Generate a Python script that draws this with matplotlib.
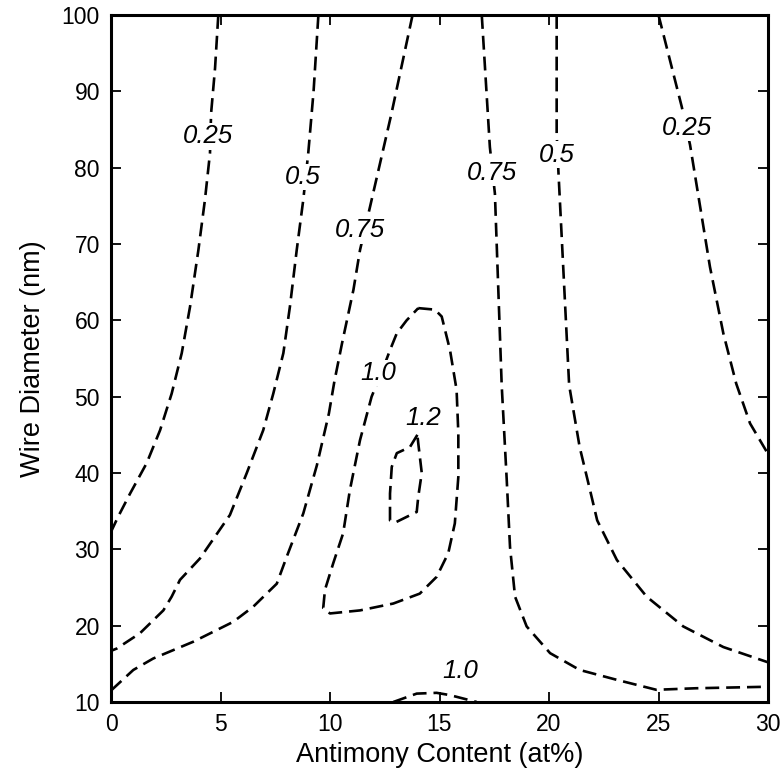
import matplotlib
matplotlib.use("Agg")
import matplotlib.pyplot as plt

plt.rcParams['font.family'] = ['Liberation Sans', 'DejaVu Sans']
plt.rcParams['lines.scale_dashes'] = False

# Contour lines (x = Antimony content at%, y = wire diameter nm)
c025_left_x = [4.90, 4.75, 4.57, 4.52, 4.29, 3.99, 3.61, 3.23, 2.77, 2.24, 1.63, 0.87, 0.33, 0.0]
c025_left_y = [100, 93, 87.1, 81.9, 75.8, 69.2, 61.8, 55.7, 50.4, 45.6, 41.3, 37.3, 34.3, 32.3]

c05_left_x = [9.47, 9.25, 9.01, 8.78, 8.48, 8.17, 7.87, 7.41, 6.95, 6.20, 5.43, 4.06, 3.15, 2.77,
              2.39, 1.32, 0.26, 0.0]
c05_left_y = [100, 90, 82, 75.8, 69.2, 61.8, 55.7, 50.4, 45.6, 40.0, 34.5, 28.8, 26.0, 23.8,
              22.0, 19.0, 17.0, 16.7]

c075_left_x = [13.77, 12.80, 11.83, 11.37, 11.07, 10.55, 10.20, 9.95, 9.40, 8.78, 8.02, 7.57,
               6.50, 5.58, 3.76, 1.93, 1.02, 0.0]
c075_left_y = [100, 87, 74.9, 69.2, 64.0, 57.0, 52.0, 47.8, 41.0, 34.7, 29.0, 25.5,
               22.5, 20.5, 17.9, 15.7, 14.2, 11.5]

c10_loop_x = [14.03, 14.79, 15.10, 15.48, 15.78, 15.86, 15.86, 15.70, 15.40, 14.87, 14.10,
              12.89, 11.37, 10.00, 9.69, 9.77, 10.15, 10.60, 10.91, 11.37, 11.90, 12.40,
              12.74, 13.05, 13.50, 14.03]
c10_loop_y = [61.6, 61.4, 60.5, 56.1, 50.9, 45.2, 39.5, 33.4, 29.5, 26.4, 24.2,
              22.9, 22.0, 21.6, 22.3, 24.7, 28.2, 32.1, 37.8, 44.3, 50.0, 53.5,
              56.1, 58.3, 60.0, 61.6]

c12_loop_x = [13.99, 13.65, 13.05, 12.82, 12.74, 12.74, 12.97, 13.96, 14.03, 14.19, 14.03, 13.99]
c12_loop_y = [45.0, 43.4, 42.6, 40.8, 37.3, 33.8, 33.5, 34.9, 36.9, 40.0, 43.9, 45.0]

c10_bottom_x = [12.89, 13.96, 14.87, 15.48, 16.70]
c10_bottom_y = [10.0, 11.1, 11.2, 10.9, 10.0]

c075_right_x = [16.93, 17.30, 17.53, 17.84, 18.07, 18.22, 18.45, 18.98, 20.05, 21.40, 23.10,
                24.90, 26.70, 30.0]
c075_right_y = [100, 82.7, 76.6, 51.5, 39.1, 30.3, 23.8, 19.9, 16.4, 14.2, 12.9,
                11.6, 11.8, 12.0]

c05_right_x = [20.35, 20.35, 20.43, 20.92, 21.40, 21.87, 22.20, 23.10, 24.46, 26.13, 27.96, 30.0]
c05_right_y = [100, 84.5, 79.5, 51.5, 43.4, 37.8, 33.8, 28.6, 23.8, 19.9, 17.2, 15.2]

c025_right_x = [25.0, 26.06, 26.44, 27.35, 27.96, 28.55, 29.18, 30.0]
c025_right_y = [100, 88.0, 83.0, 67.0, 58.3, 51.7, 46.5, 42.5]

lines_x = [c025_left_x, c05_left_x, c075_left_x, c10_loop_x, c12_loop_x, c10_bottom_x,
           c075_right_x, c05_right_x, c025_right_x]
lines_y = [c025_left_y, c05_left_y, c075_left_y, c10_loop_y, c12_loop_y, c10_bottom_y,
           c075_right_y, c05_right_y, c025_right_y]

# Contour labels
label_text = ['0.25', '0.5', '0.75', '1.0', '1.2', '1.0', '0.75', '0.5', '0.25']
label_x = [4.44, 8.78, 11.37, 12.20, 14.26, 15.94, 17.38, 20.35, 26.29]
label_y = [84.1, 78.8, 71.8, 53.1, 47.2, 14.0, 79.3, 81.7, 85.2]

x_ticks = [0, 5, 10, 15, 20, 25, 30]
y_ticks = [10, 20, 30, 40, 50, 60, 70, 80, 90, 100]

fig = plt.figure(figsize=(7.82, 7.70), dpi=100)
ax = fig.add_axes([111/782, 1 - 702/770, (768 - 111)/782, (702 - 15)/770])

for xs, ys in zip(lines_x, lines_y):
    ax.plot(xs, ys, color='black', lw=1.9, linestyle=(0, (10, 5)),
            dash_capstyle='butt')

for t, x, y in zip(label_text, label_x, label_y):
    ax.text(x, y, t, ha='center', va='center', fontsize=18.5, fontstyle='italic',
            bbox=dict(facecolor='white', edgecolor='none', pad=1.0), zorder=5)

ax.set_xlim(0, 30)
ax.set_ylim(10, 100)
ax.set_xticks(x_ticks)
ax.set_yticks(y_ticks)
ax.tick_params(direction='in', length=7, width=1.3, top=True, right=True,
               labelsize=16.5, pad=8)
for s in ax.spines.values():
    s.set_linewidth(2.2)

ax.set_xlabel('Antimony Content (at%)', fontsize=19.5, labelpad=4)
ax.set_ylabel('Wire Diameter (nm)', fontsize=19.5, labelpad=11)

fig.savefig('out.png', dpi=100)
